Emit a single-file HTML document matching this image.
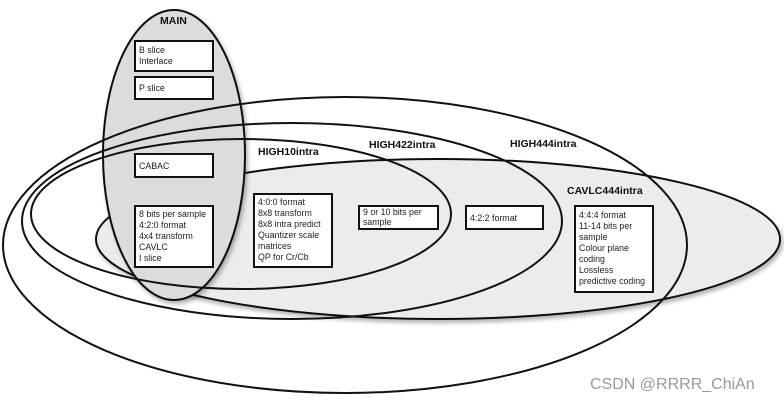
<!DOCTYPE html>
<html><head><style>body{margin:0;background:#fff}svg{display:block}</style></head><body>
<svg width="784" height="403" xmlns="http://www.w3.org/2000/svg" font-family="Liberation Sans, sans-serif">
<defs><filter id="sh" x="-10%" y="-10%" width="130%" height="130%"><feDropShadow dx="2" dy="3" stdDeviation="2" flood-color="#000" flood-opacity="0.3"/></filter></defs>
<g stroke="#111" stroke-width="2">
<ellipse cx="438" cy="239" rx="342" ry="80" fill="#ececec" filter="url(#sh)"/>
<ellipse cx="174" cy="155" rx="71" ry="145" fill="#dcdcdc" filter="url(#sh)"/>
<ellipse cx="345" cy="245" rx="342" ry="148" fill="none"/>
<ellipse cx="292" cy="221" rx="270" ry="98" fill="none"/>
<ellipse cx="241" cy="214" rx="210" ry="75" fill="none"/>
</g>
<g fill="#fff" stroke="#111" stroke-width="2">
<rect x="135" y="41" width="78" height="30"/>
<rect x="135" y="77" width="78" height="22"/>
<rect x="135" y="154" width="78" height="23"/>
<rect x="135" y="206" width="78" height="61"/>
<rect x="254" y="194" width="78" height="73"/>
<rect x="359" y="206" width="79" height="23"/>
<rect x="466" y="206" width="77" height="23"/>
<rect x="575" y="206" width="78" height="86"/>
</g>
<g font-weight="bold" font-size="10.5" fill="#111">
<text x="160" y="24">MAIN</text>
<text x="258" y="155">HIGH10intra</text>
<text x="369" y="148">HIGH422intra</text>
<text x="510" y="147">HIGH444intra</text>
<text x="567" y="194">CAVLC444intra</text>
</g>
<g font-size="8.8" fill="#222">
<text x="139" y="53">B slice</text><text x="139" y="64">Interlace</text>
<text x="139" y="91">P slice</text>
<text x="139" y="169">CABAC</text>
<text x="139" y="217">8 bits per sample</text><text x="139" y="228">4:2:0 format</text><text x="139" y="239">4x4 transform</text><text x="139" y="250">CAVLC</text><text x="139" y="261">I slice</text>
<text x="258" y="205">4:0:0 format</text><text x="258" y="216">8x8 transform</text><text x="258" y="227">8x8 intra predict</text><text x="258" y="238">Quantizer scale</text><text x="258" y="249">matrices</text><text x="258" y="260">QP for Cr/Cb</text>
<text x="363" y="215">9 or 10 bits per</text><text x="363" y="225">sample</text>
<text x="470" y="221">4:2:2 format</text>
<text x="579" y="218">4:4:4 format</text><text x="579" y="229">11-14 bits per</text><text x="579" y="240">sample</text><text x="579" y="251">Colour plane</text><text x="579" y="262">coding</text><text x="579" y="273">Lossless</text><text x="579" y="284">predictive coding</text>
</g>
<text x="590" y="389" font-size="16" fill="#999">CSDN @RRRR_ChiAn</text>
</svg>
</body></html>
